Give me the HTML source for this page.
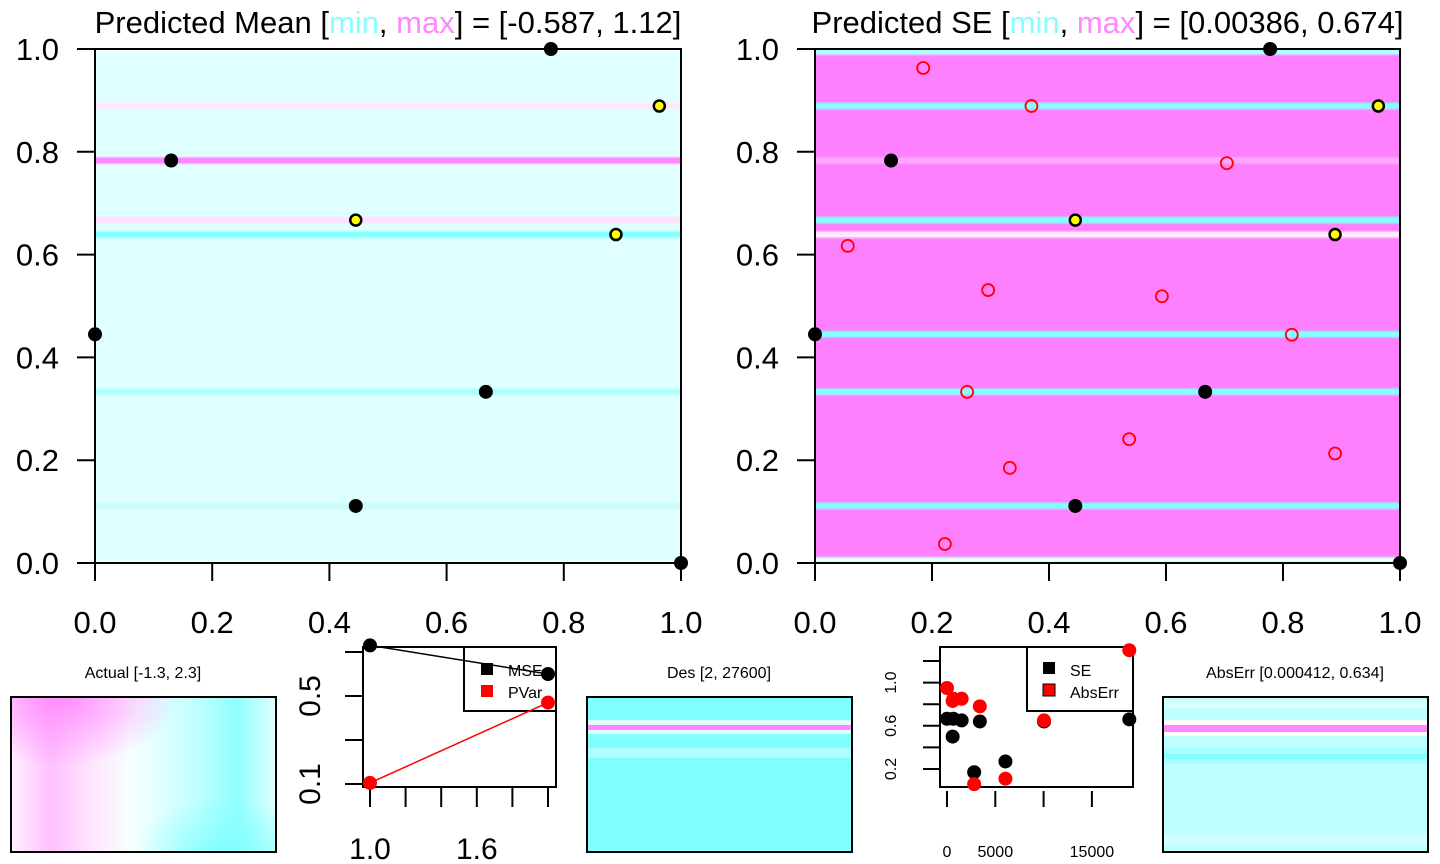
<!DOCTYPE html>
<html><head><meta charset="utf-8"><style>
html,body{margin:0;padding:0;background:#fff;}
svg{display:block;font-family:"Liberation Sans",sans-serif;}
</style></head><body>
<svg id="s" width="1440" height="864" xmlns="http://www.w3.org/2000/svg">
<defs>
<linearGradient id="actG" x1="0" y1="0" x2="1" y2="0">
<stop offset="0" stop-color="#fff0ff"/><stop offset="0.15" stop-color="#ffc0ff"/><stop offset="0.3" stop-color="#ffe4ff"/><stop offset="0.45" stop-color="#f8ffff"/><stop offset="0.7" stop-color="#c0ffff"/><stop offset="0.85" stop-color="#90ffff"/><stop offset="1" stop-color="#e0ffff"/>
</linearGradient>
<radialGradient id="actR" cx="0.18" cy="0" r="0.45"><stop offset="0" stop-color="#ff88ff" stop-opacity="0.9"/><stop offset="1" stop-color="#ff88ff" stop-opacity="0"/></radialGradient>
<radialGradient id="actC" cx="0.82" cy="1" r="0.35"><stop offset="0" stop-color="#80ffff" stop-opacity="0.9"/><stop offset="1" stop-color="#80ffff" stop-opacity="0"/></radialGradient>
</defs>
<g id="root"></g>
</svg>
<script>
const NS="http://www.w3.org/2000/svg";
const root=document.getElementById('root');
function mk(tag,attrs,parent,txt){const e=document.createElementNS(NS,tag);for(const k in attrs)e.setAttribute(k,attrs[k]);if(txt!==undefined)e.textContent=txt;(parent||root).appendChild(e);return e;}

// ---- data ----
const designX=[0.0,0.13,0.778,0.667,0.445,1.0];
const designY=[0.445,0.783,1.0,0.333,0.111,0.0];
const newX=[0.445,0.963,0.889];
const newY=[0.667,0.889,0.639];
const candX=[0.185,0.37,0.704,0.056,0.296,0.593,0.815,0.26,0.537,0.333,0.889,0.222];
const candY=[0.963,0.889,0.778,0.617,0.531,0.519,0.444,0.333,0.241,0.185,0.213,0.037];
const axisTicks=[0,0.2,0.4,0.6,0.8,1.0];
const axisLabels=["0.0","0.2","0.4","0.6","0.8","1.0"];
const meanStripeY=[0.889,0.783,0.667,0.639,0.333,0.111];
const meanStripeC=["#ffe8ff","#ff88ff","#ffe0ff","#88ffff","#b0ffff","#cafcfc"];
const seStripeY=[0.995,0.889,0.783,0.667,0.639,0.445,0.333,0.111,0.005];
const seStripeC=["#b0ffff","#88ffff","#ffa8ff","#88ffff","#ffe8ff","#88ffff","#88ffff","#88ffff","#e0ffff"];
const iters=[1,2];
const mseVals=[0.73,0.6];
const pvarVals=[0.105,0.47];
const lineYTicks=[0.1,0.3,0.5,0.7];
const lineXTicks=[1.0,1.2,1.4,1.6,1.8,2.0];
const desX=[0,660,585,1520,2810,3400,6050,10040,18870];
const seVals=[0.665,0.665,0.50,0.65,0.17,0.64,0.27,0.64,0.66];
const absErrVals=[0.95,0.85,0.83,0.85,0.06,0.78,0.11,0.65,1.30];
const scXTicks=[0,5000,10000,15000];
const scYTicks=[0.2,0.4,0.6,0.8,1.0,1.2];

// ---- big panels ----
function bigPanel(x0,x1,y0,y1,bg,stripesY,stripesC,title,withCand,name){
  const g=mk('g',{});
  
  
  const sx=v=>x0+v*(x1-x0), sy=v=>y1-v*(y1-y0);
  mk('rect',{x:x0,y:y0+2,width:x1-x0,height:y1-y0-4,fill:bg},g);
  stripesY.forEach((v,i)=>{
    const c=stripesC[i];
    const s=mk('rect',{x:x0,y:sy(v)-4,width:x1-x0,height:8,fill:c,opacity:0.5},g);
    
    
    const s2=mk('rect',{x:x0,y:sy(v)-2.5,width:x1-x0,height:5,fill:c},g);
    
    
  });
  mk('rect',{x:x0,y:y0,width:x1-x0,height:y1-y0,fill:'none',stroke:'#000','stroke-width':2},g);
  axisTicks.forEach((t,i)=>{
    mk('line',{x1:sx(t),x2:sx(t),y1:y1,y2:y1+18,stroke:'#000','stroke-width':2},g);
    const tx=mk('text',{x:sx(t),y:633,'font-size':31,'text-anchor':'middle'},g,axisLabels[i]);
    
    
    mk('line',{x1:x0-18,x2:x0,y1:sy(t),y2:sy(t),stroke:'#000','stroke-width':2},g);
    const ty=mk('text',{x:x0-36,y:sy(t)+11,'font-size':31,'text-anchor':'end'},g,axisLabels[i]);
    
    
  });
  if(withCand){
    candX.forEach((v,i)=>{
      const c=mk('circle',{cx:sx(v),cy:sy(candY[i]),r:6,fill:'none',stroke:'#f00','stroke-width':1.8},g);
      
      
    });
  }
  designX.forEach((v,i)=>{
    const c=mk('circle',{cx:sx(v),cy:sy(designY[i]),r:7,fill:'#000'},g);
    
    
  });
  newX.forEach((v,i)=>{
    const c=mk('circle',{cx:sx(v),cy:sy(newY[i]),r:5.5,fill:'#ff0',stroke:'#000','stroke-width':2.5},g);
    
    
  });
  const t=mk('text',{x:(x0+x1)/2,y:33,'font-size':31,'text-anchor':'middle'},g);
  
  
  t.innerHTML=title;
}
bigPanel(95,681,49,563,'#e0ffff',meanStripeY,meanStripeC,'Predicted Mean [<tspan fill="#88ffff">min</tspan>, <tspan fill="#ff88ff">max</tspan>] = [-0.587, 1.12]',false,'predicted-mean-panel');
bigPanel(815,1400,49,563,'#ff80ff',seStripeY,seStripeC,'Predicted SE [<tspan fill="#88ffff">min</tspan>, <tspan fill="#ff88ff">max</tspan>] = [0.00386, 0.674]',true,'predicted-se-panel');

// ---- small heat panels ----
function smallPanel(x0,title,name,fill,stripes){
  const g=mk('g',{});
  
  
  mk('rect',{x:x0,y:697,width:265,height:155,fill:fill},g);
  stripes.forEach(s=>{mk('rect',{x:x0,y:s[0],width:265,height:s[1],fill:s[2]},g);});
  mk('rect',{x:x0,y:697,width:265,height:155,fill:'none',stroke:'#000','stroke-width':2},g);
  const t=mk('text',{x:x0+132,y:678,'font-size':16,'text-anchor':'middle'},g,title);
  
  
  return g;
}
const ga=smallPanel(11,'Actual [-1.3, 2.3]','actual-panel','url(#actG)',[]);
mk('rect',{x:12,y:698,width:263,height:153,fill:'url(#actR)'},ga);
mk('rect',{x:12,y:698,width:263,height:153,fill:'url(#actC)'},ga);
smallPanel(587,'Des [2, 27600]','des-panel','#80ffff',[[720,14,'#e0ffff'],[725,5,'#ff88ff'],[748,10,'#b0ffff']]);
smallPanel(1163,'AbsErr [0.000412, 0.634]','abserr-panel','#c0ffff',[[700,8,'#d8ffff'],[720,16,'#ffffff'],[725,7,'#ff88ff'],[748,16,'#a8ffff'],[754,5,'#88ffff'],[835,10,'#d0ffff']]);

// ---- line chart ----
(function(){
  const g=mk('g',{});
  
  
  const x0=363,x1=556,y0=647,y1=787;
  const sx=v=>370+(v-1)*178, sy=v=>784-(v-0.1)*220;
  mk('rect',{x:x0,y:y0,width:x1-x0,height:y1-y0,fill:'#fff',stroke:'#000','stroke-width':2},g);
  lineXTicks.forEach(t=>mk('line',{x1:sx(t),x2:sx(t),y1:y1,y2:y1+20,stroke:'#000','stroke-width':2},g));
  [[1.0,'1.0'],[1.6,'1.6']].forEach(a=>{const t=mk('text',{x:sx(a[0]),y:859,'font-size':30,'text-anchor':'middle'},g,a[1]);});
  lineYTicks.forEach(t=>mk('line',{x1:x0-18,x2:x0,y1:sy(t),y2:sy(t),stroke:'#000','stroke-width':2},g));
  [[0.1,'0.1'],[0.5,'0.5']].forEach(a=>{const t=mk('text',{x:320,y:sy(a[0]),'font-size':30,'text-anchor':'middle',transform:`rotate(-90 320 ${sy(a[0])})`},g,a[1]);});
  mk('rect',{x:464,y:647,width:92,height:64,fill:'#fff',stroke:'#000','stroke-width':2},g);
  mk('rect',{x:481,y:663,width:12,height:12,fill:'#000'},g);
  mk('rect',{x:481,y:685,width:12,height:12,fill:'#f00'},g);
  const l1=mk('text',{x:508,y:676,'font-size':16},g,'MSE');
  const l2=mk('text',{x:508,y:698,'font-size':16},g,'PVar');
  [[mseVals,'#000','mse'],[pvarVals,'#f00','pvar']].forEach(s=>{
    const p=mk('polyline',{points:iters.map((x,i)=>sx(x)+','+sy(s[0][i])).join(' '),fill:'none',stroke:s[1],'stroke-width':1.5},g);
    
    
    iters.forEach((x,i)=>{const c=mk('circle',{cx:sx(x),cy:sy(s[0][i]),r:7,fill:s[1]},g);});
  });
})();

// ---- scatter chart ----
(function(){
  const g=mk('g',{});
  
  
  const x0=940,x1=1133,y0=647,y1=787;
  const sx=v=>947+v*0.00966, sy=v=>769-(v-0.2)*108;
  mk('rect',{x:x0,y:y0,width:x1-x0,height:y1-y0,fill:'#fff',stroke:'#000','stroke-width':2},g);
  scXTicks.forEach(t=>mk('line',{x1:sx(t),x2:sx(t),y1:y1+4,y2:y1+20,stroke:'#000','stroke-width':2},g));
  [[0,'0'],[5000,'5000'],[15000,'15000']].forEach(a=>{const t=mk('text',{x:sx(a[0]),y:857,'font-size':16,'text-anchor':'middle'},g,a[1]);});
  scYTicks.forEach(t=>mk('line',{x1:x0-17,x2:x0,y1:sy(t),y2:sy(t),stroke:'#000','stroke-width':2},g));
  [[0.2,'0.2'],[0.6,'0.6'],[1.0,'1.0']].forEach(a=>{const t=mk('text',{x:896,y:sy(a[0]),'font-size':16,'text-anchor':'middle',transform:`rotate(-90 896 ${sy(a[0])})`},g,a[1]);});
  mk('rect',{x:1027,y:647,width:106,height:64,fill:'#fff',stroke:'#000','stroke-width':2},g);
  mk('rect',{x:1043,y:662,width:12,height:12,fill:'#000'},g);
  mk('rect',{x:1043,y:684,width:12,height:12,fill:'#f00',stroke:'#000'},g);
  const l1=mk('text',{x:1070,y:676,'font-size':16},g,'SE');
  const l2=mk('text',{x:1070,y:698,'font-size':16},g,'AbsErr');
  desX.forEach((x,i)=>{const c=mk('circle',{cx:sx(x),cy:sy(seVals[i]),r:7,fill:'#000'},g);});
  desX.forEach((x,i)=>{const c=mk('circle',{cx:sx(x),cy:sy(absErrVals[i]),r:7,fill:'#f00'},g);});
})();
</script>
</body></html>
